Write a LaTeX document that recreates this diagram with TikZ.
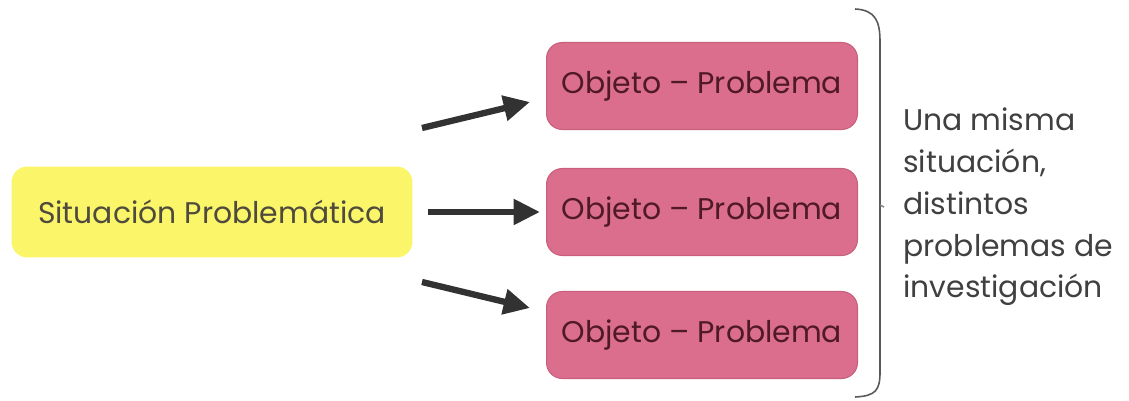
\documentclass[tikz,border=0pt]{standalone}
\usepackage{fontspec}
\setmainfont{Poppins}
\usetikzlibrary{arrows.meta}

\definecolor{sityellow}{RGB}{250,245,105}
\definecolor{objpink}{RGB}{219,110,140}
\definecolor{objedge}{RGB}{200,95,125}
\definecolor{objtext}{RGB}{80,25,40}
\definecolor{arrowgray}{RGB}{50,50,50}

\tikzset{
  situacion/.style={fill=sityellow, rounded corners=9pt, minimum width=8.02cm,
    minimum height=1.82cm, text=black!80!yellow, font=\fontsize{17}{21}\selectfont},
  objeto/.style={fill=objpink, draw=objedge, line width=0.6pt, rounded corners=9pt,
    minimum width=6.22cm, minimum height=1.74cm, text=objtext,
    font=\fontsize{17}{21}\selectfont},
  flecha/.style={arrowgray, line width=3.6pt, -{Triangle[length=15pt,width=14pt]}},
}

\begin{document}
\begin{tikzpicture}[x=0.02cm,y=-0.02cm]
  \useasboundingbox (0,0) rectangle (1129,401);

  \node[situacion] (sit) at (212,212) {Situación Problemática};

  \foreach \y [count = \n] in {86,212,335}{
    \node[objeto] (obj\n) at (702,\y) {Objeto -- Problema};
  }

  % arrow ends
  \coordinate (a1) at (422,128); \coordinate (b1) at (530,102);
  \coordinate (a2) at (428,212); \coordinate (b2) at (540,212);
  \coordinate (a3) at (422,282); \coordinate (b3) at (530,308);
  \foreach \n in {1,2,3}{
    \draw[flecha] (a\n) -- (b\n);
  }

  % bracket
  \draw[gray!70!black, line width=0.9pt]
    (855,9) .. controls (876,10) and (880,22) .. (880,42)
    -- (880,372) .. controls (880,390) and (876,396) .. (855,397);
  \draw[gray, line width=0.8pt] (880,205) -- (884,207);

  \node[anchor=west, align=left, text=black!75, font=\fontsize{17}{23.8}\selectfont,
    inner sep=0pt] (nota) at (903,207)
    {Una misma\\situación,\\distintos\\problemas de\\investigación};
\end{tikzpicture}
\end{document}
